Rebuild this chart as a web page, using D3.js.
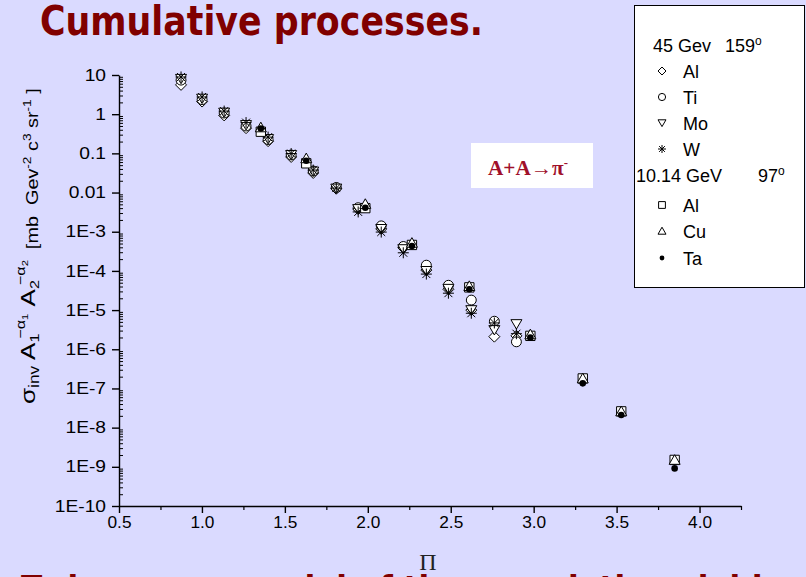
<!DOCTYPE html>
<html>
<head>
<meta charset="utf-8">
<script src="https://cdn.jsdelivr.net/npm/d3@7"></script>
<style>
  html, body { margin: 0; padding: 0; background: #dadaff; }
  svg { display: block; }
</style>
</head>
<body>
<script>
// Π values of the 45 GeV, 159° measurements
const pi45 = [0.874, 1.001, 1.134, 1.266, 1.399, 1.538, 1.671, 1.810, 1.942, 2.081, 2.214, 2.353, 2.486, 2.624, 2.763, 2.896];
const al45 = [5.6, 2.1, 0.93, 0.44, 0.205, 0.081, 0.0316, 0.0125, 0.0038, 0.00118, 3.9e-4, 1.05e-4, 3.4e-5, 1.0e-5, 2.1e-6, 2.2e-6];
const ti45 = [7.4, 2.35, 1.07, 0.50, 0.225, 0.091, 0.0355, 0.0135, 0.0041, 0.00141, 4.2e-4, 1.4e-4, 4.3e-5, 1.8e-5, 5.2e-6, 1.55e-6];
const mo45 = [8.0, 2.5, 1.1, 0.53, 0.233, 0.091, 0.0345, 0.0127, 0.0038, 0.00118, 3.6e-4, 1.0e-4, 3.5e-5, 1.0e-5, 3.1e-6, 4.4e-6];
const w45  = [8.9, 2.75, 1.2, 0.61, 0.26, 0.099, 0.0375, 0.013, 0.0032, 0.00098, 2.9e-4, 8.3e-5, 2.7e-5, 8.3e-6, 4.7e-6, 2.5e-6];

// Π values of the 10.14 GeV, 97° measurements
const pi10 = [1.355, 1.629, 1.985, 2.266, 2.612, 2.98, 3.296, 3.528, 3.85];
const al10 = [0.357, 0.0557, 0.0040, 4.6e-4, 3.8e-5, 2.2e-6, 1.8e-7, 2.6e-8, 1.5e-9];
const cu10 = [0.46, 0.0748, 0.0051, 5.2e-4, 4.1e-5, 2.4e-6, 1.8e-7, 2.6e-8, 1.5e-9];
const ta10 = [0.43, 0.065, 0.0041, 4.3e-4, 3.4e-5, 2.0e-6, 1.35e-7, 2.1e-8, 9.1e-10];

// axis ticks
const xTicks = [0.5, 1.0, 1.5, 2.0, 2.5, 3.0, 3.5, 4.0];
const xTickLabels = ["0.5", "1.0", "1.5", "2.0", "2.5", "3.0", "3.5", "4.0"];
const xMinor = [0.75, 1.25, 1.75, 2.25, 2.75, 3.25, 3.75, 4.25];
const yTicks = [10, 1, 0.1, 0.01, 1e-3, 1e-4, 1e-5, 1e-6, 1e-7, 1e-8, 1e-9, 1e-10];
const yTickLabels = ["10", "1", "0.1", "0.01", "1E-3", "1E-4", "1E-5", "1E-6", "1E-7", "1E-8", "1E-9", "1E-10"];

const series = [
  { group: 0, name: "Al", shape: "diamond", x: pi45, y: al45 },
  { group: 0, name: "Ti", shape: "circle", x: pi45, y: ti45 },
  { group: 0, name: "Mo", shape: "tridown", x: pi45, y: mo45 },
  { group: 0, name: "W",  shape: "star", x: pi45, y: w45 },
  { group: 1, name: "Al", shape: "square", x: pi10, y: al10 },
  { group: 1, name: "Cu", shape: "triup", x: pi10, y: cu10 },
  { group: 1, name: "Ta", shape: "dot", x: pi10, y: ta10 }
];

const W = 806, H = 577;
const svg = d3.select("body").append("svg").attr("width", W).attr("height", H);
svg.append("rect").attr("width", W).attr("height", H).attr("fill", "#dadaff");

const sans = "'Liberation Sans', Arial, Helvetica, sans-serif";
const serif = "'Liberation Serif', 'Times New Roman', serif";
const comic = "'Comic Sans MS', 'DejaVu Sans', sans-serif";

// widen a text element horizontally by a factor
function widen(sel, f) {
  sel.each(function () {
    const len = this.getComputedTextLength();
    d3.select(this).attr("textLength", len * f).attr("lengthAdjust", "spacingAndGlyphs");
  });
}

// slide heading
svg.append("text")
  .attr("x", 40).attr("y", 35)
  .attr("font-family", comic).attr("font-weight", "bold")
  .attr("font-size", 40).attr("fill", "#800000")
  .attr("textLength", 443).attr("lengthAdjust", "spacingAndGlyphs")
  .text("Cumulative processes.");

// next line of the slide, running off the bottom edge
svg.append("text")
  .attr("x", 21).attr("y", 605)
  .attr("font-family", comic).attr("font-weight", "bold")
  .attr("font-size", 40).attr("fill", "#800000")
  .attr("textLength", 760).attr("lengthAdjust", "spacingAndGlyphs")
  .text("Twin source model of the cumulative yields");

const x = d3.scaleLinear().domain([0.5, 4.25]).range([119, 741]);
const y = d3.scaleLog().domain([1e-10, 10]).range([506, 75]);

// y axis: major ticks outside, minor ticks inside
const yMinor = [];
for (let e = -10; e < 1; e++) for (let m = 2; m <= 9; m++) yMinor.push(m * Math.pow(10, e));

const gy = svg.append("g").attr("transform", `translate(${x(0.5)},0)`);
gy.call(d3.axisLeft(y).tickValues(yTicks).tickSize(7).tickSizeOuter(0)
  .tickFormat((d, i) => yTickLabels[i]).tickPadding(6));
gy.selectAll("text").attr("font-family", sans).attr("font-size", 16).attr("fill", "#000");
gy.selectAll("line, path").attr("stroke", "#000").attr("stroke-width", 1.4);
widen(gy.selectAll("text"), 1.2);

const gym = svg.append("g").attr("transform", `translate(${x(0.5)},0)`);
gym.call(d3.axisRight(y).tickValues(yMinor).tickSize(4).tickSizeOuter(0).tickFormat(""));
gym.select(".domain").remove();
gym.selectAll("line").attr("stroke", "#000").attr("stroke-width", 1);

// x axis
const gx = svg.append("g").attr("transform", `translate(0,${y(1e-10)})`);
gx.call(d3.axisBottom(x).tickValues(xTicks).tickSize(7).tickSizeOuter(0)
  .tickFormat((d, i) => xTickLabels[i]).tickPadding(4));
gx.selectAll("text").attr("font-family", sans).attr("font-size", 16).attr("fill", "#000");
gx.selectAll("line, path").attr("stroke", "#000").attr("stroke-width", 1.4);
widen(gx.selectAll("text"), 1.08);

const gxm = svg.append("g").attr("transform", `translate(0,${y(1e-10)})`);
gxm.call(d3.axisBottom(x).tickValues(xMinor).tickSize(4).tickSizeOuter(0).tickFormat(""));
gxm.select(".domain").remove();
gxm.selectAll("line").attr("stroke", "#000").attr("stroke-width", 1.2);

// x axis title
svg.append("text").attr("x", 428).attr("y", 570).attr("text-anchor", "middle")
  .attr("font-family", serif).attr("font-size", 24).attr("fill", "#222").text("Π");

// y axis title (rotated, stretched along its reading direction)
const yt = svg.append("text")
  .attr("transform", "translate(35,404) rotate(-90) scale(1.24,1)")
  .attr("font-family", sans).attr("font-size", 21).attr("fill", "#000");
yt.append("tspan").text("σ");
yt.append("tspan").attr("font-size", 14).attr("dy", 4).text("inv");
yt.append("tspan").attr("dy", -4).text(" A");
yt.append("tspan").attr("font-size", 13).attr("dy", 4).text("1");
yt.append("tspan").attr("font-size", 13).attr("dy", -14).attr("dx", -4).text("−α");
yt.append("tspan").attr("font-size", 9).attr("dy", 3).text("1");
yt.append("tspan").attr("dy", 7).text(" A");
yt.append("tspan").attr("font-size", 13).attr("dy", 4).text("2");
yt.append("tspan").attr("font-size", 13).attr("dy", -14).attr("dx", -4).text("−α");
yt.append("tspan").attr("font-size", 9).attr("dy", 3).text("2");
yt.append("tspan").attr("font-size", 16).attr("dy", 10).attr("xml:space", "preserve").text("  [mb  Gev");
yt.append("tspan").attr("font-size", 11).attr("dy", -7).text("-2");
yt.append("tspan").attr("font-size", 16).attr("dy", 7).text(" c");
yt.append("tspan").attr("font-size", 11).attr("dy", -7).text("3");
yt.append("tspan").attr("font-size", 16).attr("dy", 7).text(" sr");
yt.append("tspan").attr("font-size", 11).attr("dy", -7).text("-1");
yt.append("tspan").attr("font-size", 16).attr("dy", 7).text(" ]");

// marker shapes
function markerPath(shape, s) {
  switch (shape) {
    case "diamond": return `M0,${-s}L${s},0L0,${s}L${-s},0Z`;
    case "tridown": return `M${-s},${-s * 0.8}L${s},${-s * 0.8}L0,${s * 0.9}Z`;
    case "triup": return `M0,${-s * 0.95}L${s},${s * 0.8}L${-s},${s * 0.8}Z`;
    case "square": return `M${-s * 0.85},${-s * 0.85}H${s * 0.85}V${s * 0.85}H${-s * 0.85}Z`;
    case "star": {
      const d = s * 0.72;
      return `M0,${-s}V${s}M${-s},0H${s}M${-d},${-d}L${d},${d}M${-d},${d}L${d},${-d}`;
    }
  }
  return "";
}

function drawMarker(g, shape, cx, cy, s) {
  if (shape === "circle") {
    g.append("circle").attr("cx", cx).attr("cy", cy).attr("r", s * 0.9)
      .attr("fill", "#fff").attr("stroke", "#000").attr("stroke-width", 1);
  } else if (shape === "dot") {
    g.append("circle").attr("cx", cx).attr("cy", cy).attr("r", s * 0.6)
      .attr("fill", "#000");
  } else if (shape === "star") {
    g.append("path").attr("transform", `translate(${cx},${cy})`).attr("d", markerPath(shape, s))
      .attr("fill", "none").attr("stroke", "#000").attr("stroke-width", 1);
  } else {
    g.append("path").attr("transform", `translate(${cx},${cy})`).attr("d", markerPath(shape, s))
      .attr("fill", "#fff").attr("stroke", "#000").attr("stroke-width", 1);
  }
}

const plot = svg.append("g");
series.forEach(sr => {
  const g = plot.append("g");
  sr.x.forEach((xv, i) => drawMarker(g, sr.shape, x(xv), y(sr.y[i]), 5.5));
});

// reaction label
svg.append("rect").attr("x", 471).attr("y", 143).attr("width", 122).attr("height", 45).attr("fill", "#fff");
const rl = svg.append("text").attr("x", 488).attr("y", 175)
  .attr("font-family", serif).attr("font-weight", "bold").attr("font-size", 20).attr("fill", "#a0102a")
  .attr("textLength", 80).attr("lengthAdjust", "spacingAndGlyphs");
rl.append("tspan").text("A+A→π");
rl.append("tspan").attr("font-size", 12).attr("dy", -8).text("-");

// legend
const lg = svg.append("g");
lg.append("rect").attr("x", 634.5).attr("y", 5.5).attr("width", 170).attr("height", 282)
  .attr("fill", "#fff").attr("stroke", "#000").attr("stroke-width", 1);

const head1 = lg.append("text").attr("x", 653).attr("y", 52).attr("font-family", sans).attr("font-size", 18);
head1.append("tspan").text("45 Gev");
head1.append("tspan").attr("x", 725).text("159");
head1.append("tspan").attr("font-size", 12).attr("dy", -7).text("o");

const head2 = lg.append("text").attr("x", 636).attr("y", 182).attr("font-family", sans).attr("font-size", 18);
head2.append("tspan").text("10.14 GeV");
head2.append("tspan").attr("x", 758).text("97");
head2.append("tspan").attr("font-size", 12).attr("dy", -7).text("o");

const rowY = [71, 97, 123, 149, 205, 231, 258];
series.forEach((sr, i) => {
  drawMarker(lg, sr.shape, 662, rowY[i], 4);
  lg.append("text").attr("x", 683).attr("y", rowY[i] + 7)
    .attr("font-family", sans).attr("font-size", 18).text(sr.name);
});
</script>
</body>
</html>
